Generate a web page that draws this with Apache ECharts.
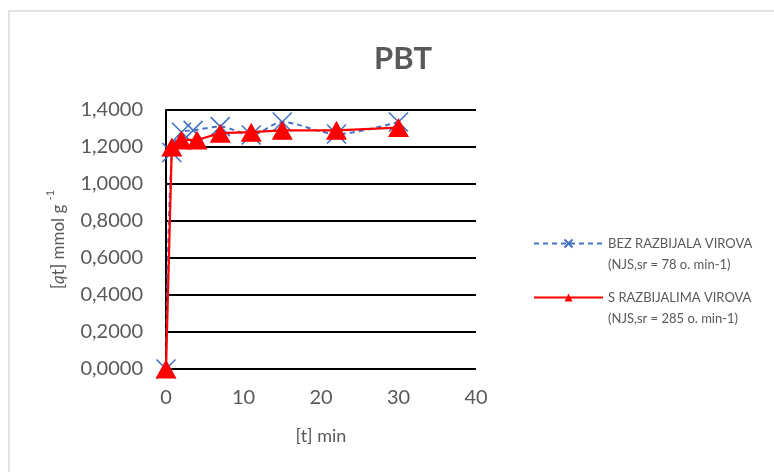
<!DOCTYPE html>
<html>
<head>
<meta charset="utf-8">
<script src="https://cdn.jsdelivr.net/npm/echarts@6/dist/echarts.min.js"></script>
<style>html,body{margin:0;padding:0;background:#fff}#c{width:774px;height:472px}</style>
</head>
<body>
<div id="c"></div>
<script>
const titleText = 'PBT';
const xTicks = [0, 10, 20, 30, 40];
const yTicks = [0, 0.2, 0.4, 0.6, 0.8, 1.0, 1.2, 1.4];

const seriesBezName = 'BEZ RAZBIJALA VIROVA';
const seriesBezSub = '(NJS,sr = 78 o. min-1)';
const bezTime = [0, 0.75, 2, 3.5, 7, 11, 15, 22, 30];
const bezQ = [0, 1.17, 1.28, 1.29, 1.31, 1.265, 1.335, 1.27, 1.335];

const seriesSName = 'S RAZBIJALIMA VIROVA';
const seriesSSub = '(NJS,sr = 285 o. min-1)';
const sTime = [0, 0.75, 2, 4, 7, 11, 15, 22, 30];
const sQ = [0, 1.20, 1.238, 1.238, 1.275, 1.28, 1.29, 1.29, 1.305];

const subs = {};
subs[seriesBezName] = seriesBezSub;
subs[seriesSName] = seriesSSub;

const pairs = (xs, ys) => xs.map((x, i) => [x, ys[i]]);
const FONT = 'Lato';
const GREY = '#595959';
const xPath = 'path://M0,0L10,10M10,0L0,10';

const chart = echarts.init(document.getElementById('c'), null, {renderer: 'canvas'});
chart.setOption({
  animation: false,
  textStyle: {fontFamily: FONT},
  graphic: [{
    type: 'rect', silent: true,
    shape: {x: 9, y: 11, width: 800, height: 500},
    style: {fill: 'none', stroke: '#d9d9d9', lineWidth: 1.5}
  }],
  title: {
    text: titleText, left: 398, top: 38, textAlign: 'center',
    textStyle: {fontFamily: FONT, fontSize: 31, fontWeight: 'bold', color: GREY}
  },
  grid: {left: 166, top: 110, right: 298, bottom: 103, containLabel: false},
  legend: {
    orient: 'vertical', left: 528, top: 232,
    itemWidth: 69, itemHeight: 10, itemGap: 20,
    data: [seriesBezName, seriesSName],
    formatter: n => '{a|' + n + '}\n{a|' + subs[n] + '}',
    textStyle: {
      fontFamily: FONT, fontSize: 13, color: GREY, padding: [21, 0, 0, 0],
      rich: {a: {fontFamily: FONT, fontSize: 13, color: GREY, lineHeight: 21}}
    }
  },
  xAxis: {
    type: 'value', min: 0, max: 40, interval: 10,
    name: '[t] min', nameLocation: 'middle', nameGap: 58,
    nameTextStyle: {fontFamily: FONT, fontSize: 18, color: GREY},
    axisLine: {show: false},
    axisTick: {show: false},
    splitLine: {show: false},
    axisLabel: {
      fontFamily: FONT, fontSize: 20, color: GREY, margin: 19,
      formatter: v => xTicks.includes(v) ? String(v) : ''
    }
  },
  yAxis: {
    type: 'value', min: 0, max: 1.4, interval: 0.2,
    name: '{n|[}{i|q}{n|t] mmol g }{s|-1}', nameLocation: 'middle', nameGap: 99,
    nameRotate: 90,
    nameTextStyle: {
      fontFamily: FONT, fontSize: 17, color: GREY,
      rich: {
        n: {fontFamily: FONT, fontSize: 17, color: GREY, verticalAlign: 'bottom', lineHeight: 22},
        i: {fontFamily: FONT, fontSize: 17, color: GREY, fontStyle: 'italic', verticalAlign: 'bottom', lineHeight: 22},
        s: {fontFamily: FONT, fontSize: 11, color: GREY, verticalAlign: 'top', lineHeight: 22, padding: [0, 0, 8, 0]}
      }
    },
    axisLine: {show: true, lineStyle: {color: '#000', width: 2}},
    axisTick: {show: false},
    splitLine: {show: true, lineStyle: {color: '#000', width: 2}},
    axisLabel: {
      fontFamily: FONT, fontSize: 20, color: GREY, margin: 23,
      formatter: v => yTicks.some(t => Math.abs(t - v) < 1e-9) ? v.toFixed(4).replace('.', ',') : ''
    }
  },
  series: [
    {
      name: seriesBezName, type: 'line', data: pairs(bezTime, bezQ),
      smooth: 0.3,
      symbol: xPath, symbolSize: 19, symbolKeepAspect: true,
      lineStyle: {color: '#4472C4', width: 2, type: [5, 4]},
      itemStyle: {color: '#4472C4', borderColor: '#4472C4', borderWidth: 1.6},
      z: 2
    },
    {
      name: seriesSName, type: 'line', data: pairs(sTime, sQ),
      symbol: 'triangle', symbolSize: [21, 19],
      lineStyle: {color: '#FF0000', width: 2.2},
      itemStyle: {color: '#FF0000'},
      z: 3
    }
  ]
});
</script>
</body>
</html>
